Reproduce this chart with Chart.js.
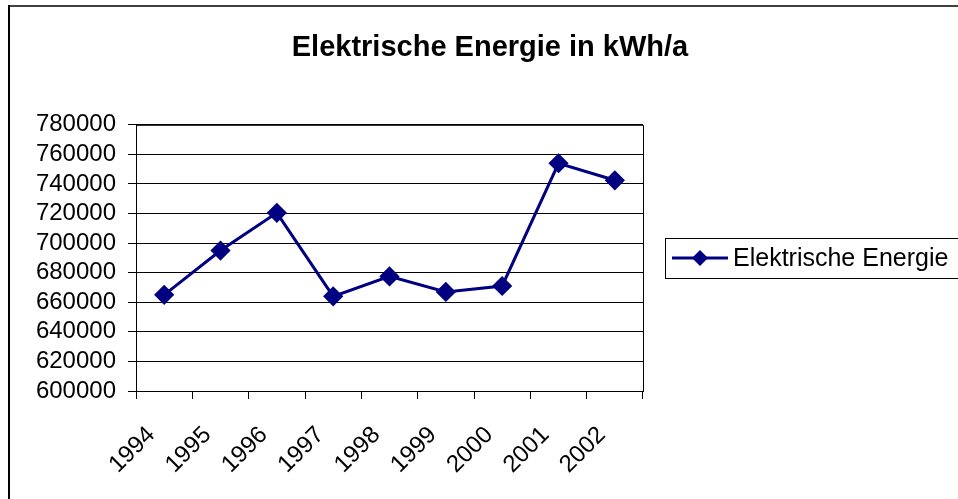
<!DOCTYPE html>
<html>
<head>
<meta charset="utf-8">
<script src="https://cdn.jsdelivr.net/npm/chart.js@4"></script>
<style>
  html, body { margin: 0; padding: 0; background: #fff; overflow: hidden; }
  #wrap { width: 958px; height: 499px; }
</style>
</head>
<body>
<div id="wrap"><canvas id="chart" width="958" height="499"></canvas></div>
<script>
const years = ['1994', '1995', '1996', '1997', '1998', '1999', '2000', '2001', '2002'];
const energie = [665000, 695000, 720500, 664000, 677500, 667000, 671000, 754000, 742500];
const yTicks = { min: 600000, max: 780000, step: 20000 };

const FONT = 'Liberation Sans, Arial, sans-serif';
const NAVY = '#000080';

// rahmen oben/links + rahmen um plotbereich
const frame = {
  id: 'frame',
  beforeDraw(chart) {
    const c = chart.ctx;
    c.save();
    c.fillStyle = '#fff';
    c.fillRect(0, 0, chart.width, chart.height);
    c.lineWidth = 2;
    c.strokeStyle = '#404040';
    c.beginPath(); c.moveTo(8, 6); c.lineTo(chart.width, 6); c.stroke();
    c.strokeStyle = '#000';
    c.beginPath(); c.moveTo(9, 5); c.lineTo(9, chart.height); c.stroke();
    c.restore();
  },
  afterDatasetsDraw(chart) {
    const a = chart.chartArea, c = chart.ctx;
    c.save();
    c.strokeStyle = '#000';
    c.lineWidth = 1;
    c.beginPath();
    c.moveTo(a.left, a.top + 0.5); c.lineTo(a.right + 0.5, a.top + 0.5);
    c.lineTo(a.right + 0.5, a.bottom);
    c.stroke();
    c.restore();
  }
};

// legende rechts, wie im excel-diagramm
const sideLegend = {
  id: 'sideLegend',
  afterDraw(chart) {
    const c = chart.ctx;
    const ds = chart.data.datasets[0];
    const y = 258;
    c.save();
    c.strokeStyle = '#000';
    c.lineWidth = 1;
    c.strokeRect(665.5, 238.5, 320, 40);
    c.strokeStyle = ds.borderColor;
    c.lineWidth = 3;
    c.beginPath(); c.moveTo(672, y); c.lineTo(728, y); c.stroke();
    c.fillStyle = ds.pointBackgroundColor;
    c.beginPath();
    c.moveTo(700, y - 8); c.lineTo(708, y); c.lineTo(700, y + 8); c.lineTo(692, y);
    c.closePath(); c.fill();
    c.fillStyle = '#000';
    c.font = '25px ' + FONT;
    c.textBaseline = 'middle';
    c.fillText(ds.label, 733, y + 1);
    c.restore();
  }
};

new Chart(document.getElementById('chart'), {
  type: 'line',
  data: {
    labels: years,
    datasets: [{
      label: 'Elektrische Energie',
      data: energie,
      borderColor: NAVY,
      borderWidth: 3,
      pointStyle: 'rectRot',
      pointRadius: 8,
      pointHoverRadius: 8,
      pointBackgroundColor: NAVY,
      pointBorderColor: NAVY,
      tension: 0
    }]
  },
  options: {
    responsive: false,
    animation: false,
    layout: { padding: { left: 22, right: 0, top: 0, bottom: 0 } },
    plugins: {
      legend: { display: false },
      tooltip: { enabled: false },
      title: {
        display: true,
        text: 'Elektrische Energie in kWh/a',
        color: '#000',
        font: { family: FONT, size: 29, weight: 'bold' },
        padding: { top: 31, bottom: 59 }
      }
    },
    scales: {
      x: {
        type: 'category',
        offset: true,
        afterFit: s => { s.height = 108; },
        grid: { offset: true, drawOnChartArea: false, drawTicks: true, tickLength: 8, color: '#000' },
        border: { display: true, color: '#000', width: 1 },
        ticks: {
          color: '#000',
          font: { family: FONT, size: 24 },
          minRotation: 45,
          maxRotation: 45,
          padding: 22,
          labelOffset: -13,
          autoSkip: false
        }
      },
      y: {
        min: yTicks.min,
        max: yTicks.max,
        afterFit: s => { s.width = 114; },
        grid: { color: '#000', tickLength: 8, lineWidth: 1 },
        border: { display: true, color: '#000', width: 1 },
        ticks: {
          stepSize: yTicks.step,
          autoSkip: false,
          color: '#000',
          font: { family: FONT, size: 24 },
          padding: 12,
          callback: v => String(v)
        }
      },
      rechts: {
        type: 'linear',
        position: 'right',
        display: true,
        afterFit: s => { s.width = 315; },
        grid: { display: false },
        border: { display: false },
        ticks: { display: false }
      }
    }
  },
  plugins: [frame, sideLegend]
});
</script>
</body>
</html>
